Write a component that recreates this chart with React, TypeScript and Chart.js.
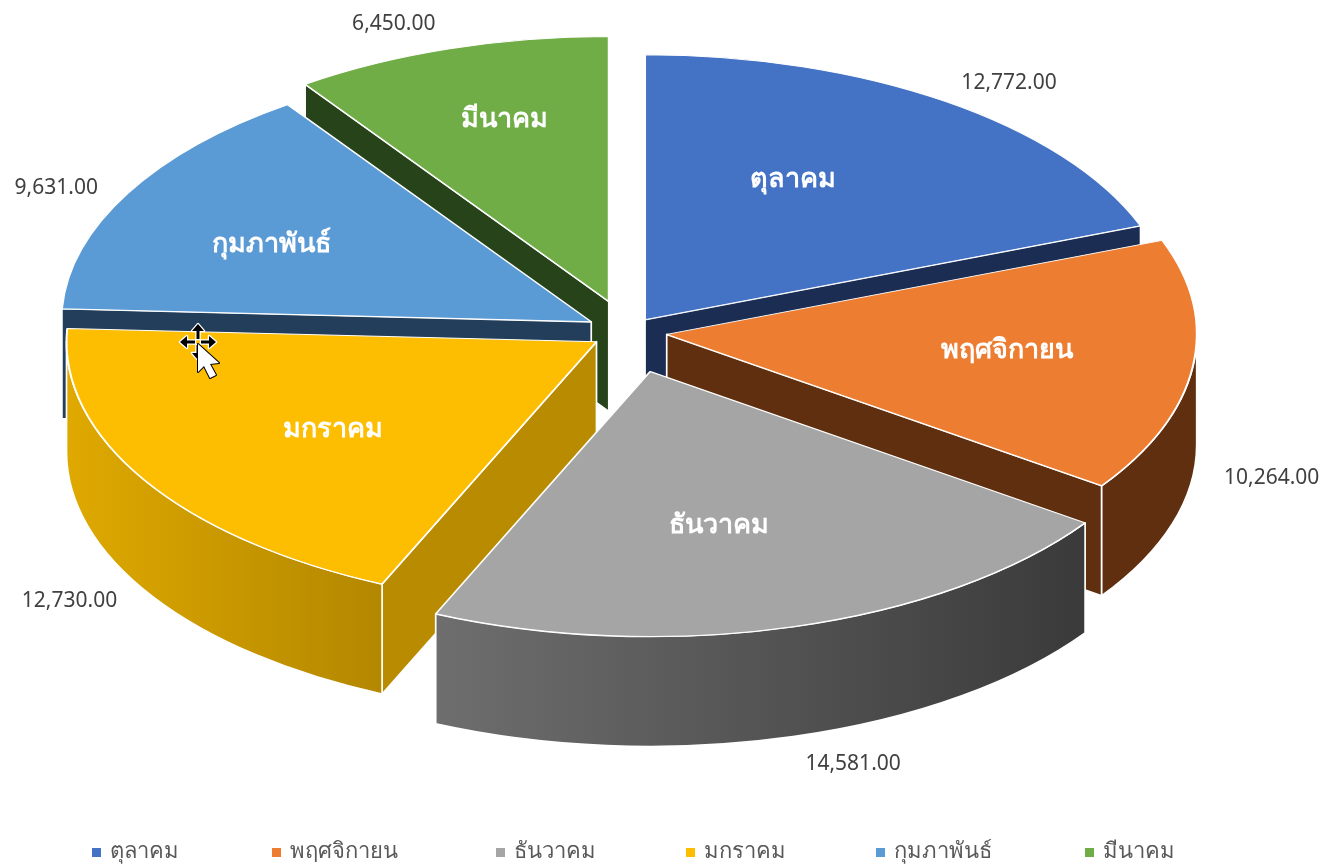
import React, { useEffect, useRef } from "react";
import { Chart, registerables } from "chart.js";

Chart.register(...registerables);

const months = ["ตุลาคม", "พฤศจิกายน", "ธันวาคม", "มกราคม", "กุมภาพันธ์", "มีนาคม"];
const amounts = [12772, 10264, 14581, 12730, 9631, 6450];

const topColors = ["#4472c4", "#ed7d31", "#a5a5a5", "#fdbd00", "#5b9bd5", "#70ad47"];
const wallColors = ["#1b2d52", "#5f2f10", "#434343", "#b98b00", "#223e5a", "#27431a"];
const outerLeft = ["#1b2d52", "#5f2f10", "#6e6e6e", "#dfa900", "#223e5a", "#27431a"];
const outerRight = ["#1b2d52", "#5f2f10", "#3a3a3a", "#b38700", "#223e5a", "#27431a"];

const explode = [30, 39, 82, 37, 42, 64];
const paintOrder = [5, 0, 4, 1, 3, 2];
const insideShift = [[148, -140], [340, 16], [69, 154], [-264, 88], [-320, -78], [-104, -182]];
const outsideShift = [[364, -237], [605, 144], [203, 393], [-527, 259], [-535, -134], [-215, -277]];
const legendSwatchX = [92, 272, 496, 686, 876, 1085];

const CENTER_X = 628;
const CENTER_Y = 332;
const TILT = 0.5;
const DEPTH = 110;
const LEGEND_Y = 852;
const FONT = '"Noto Sans", "Open Sans", sans-serif';

const fmt = (v: number) =>
  v.toLocaleString("en-US", { minimumFractionDigits: 2, maximumFractionDigits: 2 });

function apexOf(el: any, i: number) {
  const mid = (el.startAngle + el.endAngle) / 2;
  return {
    x: CENTER_X + Math.cos(mid) * explode[i],
    y: CENTER_Y + Math.sin(mid) * explode[i] * TILT,
  };
}

const pie3d = {
  id: "pie3d",
  beforeDatasetDraw(chart: any, args: any) {
    const ctx = chart.ctx;
    const arcs = args.meta.data;
    ctx.save();
    ctx.lineWidth = 1.7;
    ctx.strokeStyle = "#ffffff";
    ctx.lineJoin = "round";
    for (const i of paintOrder) {
      const el = arcs[i];
      const a = apexOf(el, i);
      const R = el.outerRadius;
      const s = el.startAngle;
      const e = el.endAngle;
      const visible: number[] = [];
      if (Math.cos(s) < -1e-6) visible.push(s);
      if (Math.cos(e) > 1e-6) visible.push(e);
      for (const t of visible) {
        const rx = a.x + Math.cos(t) * R;
        const ry = a.y + Math.sin(t) * R * TILT;
        ctx.beginPath();
        ctx.moveTo(a.x, a.y);
        ctx.lineTo(rx, ry);
        ctx.lineTo(rx, ry + DEPTH);
        ctx.lineTo(a.x, a.y + DEPTH);
        ctx.closePath();
        ctx.fillStyle = wallColors[i];
        ctx.fill();
        ctx.stroke();
      }
      const lo = Math.max(s, 0);
      const hi = Math.min(e, Math.PI);
      if (hi > lo) {
        const x0 = a.x + Math.cos(hi) * R;
        const x1 = a.x + Math.cos(lo) * R;
        const g = ctx.createLinearGradient(x0, 0, x1, 0);
        g.addColorStop(0, outerLeft[i]);
        g.addColorStop(1, outerRight[i]);
        ctx.beginPath();
        ctx.ellipse(a.x, a.y, R, R * TILT, 0, lo, hi);
        ctx.ellipse(a.x, a.y + DEPTH, R, R * TILT, 0, hi, lo, true);
        ctx.closePath();
        ctx.fillStyle = g;
        ctx.fill();
        ctx.stroke();
      }
    }
    arcs.forEach((el: any, i: number) => {
      const a = apexOf(el, i);
      ctx.save();
      ctx.translate(a.x, a.y);
      ctx.scale(1, TILT);
      ctx.translate(-el.x, -el.y);
      el.draw(ctx);
      ctx.restore();
    });
    ctx.restore();
    return false;
  },
  afterDatasetsDraw(chart: any) {
    const ctx = chart.ctx;
    const arcs = chart.getDatasetMeta(0).data;
    ctx.save();
    ctx.textAlign = "center";
    ctx.textBaseline = "middle";
    arcs.forEach((el: any, i: number) => {
      const a = apexOf(el, i);
      ctx.font = `bold 27px ${FONT}`;
      ctx.fillStyle = "#ffffff";
      ctx.fillText(months[i], a.x + insideShift[i][0], a.y + insideShift[i][1]);
      ctx.font = `21px ${FONT}`;
      ctx.fillStyle = "#404040";
      ctx.fillText(fmt(amounts[i]), a.x + outsideShift[i][0], a.y + outsideShift[i][1]);
    });
    ctx.textAlign = "left";
    ctx.font = `22px ${FONT}`;
    months.forEach((m, i) => {
      const x = legendSwatchX[i];
      ctx.fillStyle = topColors[i];
      ctx.fillRect(x, LEGEND_Y - 4, 9, 9);
      ctx.fillStyle = "#595959";
      ctx.fillText(m, x + 18, LEGEND_Y);
    });
    ctx.restore();
  },
  afterDraw(chart: any) {
    // the mouse pointer caught in the screenshot
    const ctx = chart.ctx;
    ctx.save();
    ctx.translate(198, 342);
    ctx.lineJoin = "round";
    ctx.strokeStyle = "#ffffff";
    ctx.fillStyle = "#000000";
    const arm = () => {
      ctx.beginPath();
      ctx.moveTo(0, -18);
      ctx.lineTo(6, -11);
      ctx.lineTo(1.5, -11);
      ctx.lineTo(1.5, -3);
      ctx.lineTo(-1.5, -3);
      ctx.lineTo(-1.5, -11);
      ctx.lineTo(-6, -11);
      ctx.closePath();
      ctx.lineWidth = 2.5;
      ctx.stroke();
      ctx.fill();
    };
    for (let k = 0; k < 4; k++) {
      arm();
      ctx.rotate(Math.PI / 2);
    }
    ctx.restore();
    ctx.save();
    ctx.translate(198, 344);
    ctx.beginPath();
    ctx.moveTo(0, 0);
    ctx.lineTo(0, 28);
    ctx.lineTo(6, 22);
    ctx.lineTo(12, 34);
    ctx.lineTo(18, 31);
    ctx.lineTo(12, 20);
    ctx.lineTo(21, 19);
    ctx.closePath();
    ctx.fillStyle = "#ffffff";
    ctx.strokeStyle = "#000000";
    ctx.lineWidth = 2;
    ctx.lineJoin = "round";
    ctx.stroke();
    ctx.fill();
    ctx.restore();
  },
};

export default function App() {
  const ref = useRef<HTMLCanvasElement | null>(null);
  useEffect(() => {
    if (!ref.current) return;
    const chart = new Chart(ref.current, {
      type: "pie",
      data: {
        labels: months,
        datasets: [
          {
            data: amounts,
            backgroundColor: topColors,
            borderColor: "#ffffff",
            borderWidth: 2,
            clip: false,
          } as any,
        ],
      },
      options: {
        responsive: false,
        animation: false,
        events: [],
        radius: 530,
        plugins: {
          tooltip: { enabled: false },
          legend: { display: false },
        },
      } as any,
      plugins: [pie3d as any],
    });
    return () => chart.destroy();
  }, []);
  return (
    <canvas
      ref={ref}
      width={1324}
      height={865}
      style={{ position: "absolute", left: 0, top: 0, display: "block", filter: "blur(0.5px)" }}
    />
  );
}
